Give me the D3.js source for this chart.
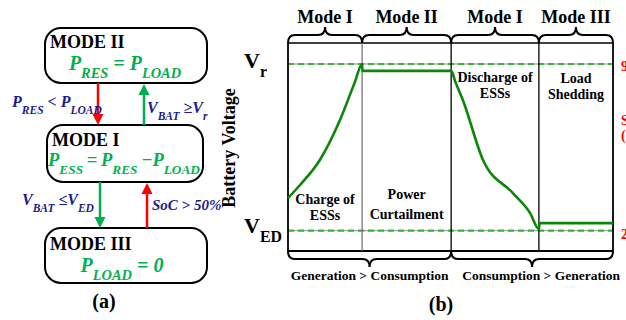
<!DOCTYPE html>
<html>
<head>
<meta charset="utf-8">
<script src="https://cdn.jsdelivr.net/npm/d3@7"></script>
<style>
  body { margin: 0; background: #fff; }
  text { font-family: "Liberation Serif", "Times New Roman", serif; font-weight: bold; }
</style>
</head>
<body>
<div id="content"></div>
<script>
// ---- data (b) ----
const modeNames = ['Mode I', 'Mode II', 'Mode I', 'Mode III']
const modeBounds = [0, 22.8, 50.2, 77.2, 100]
const regimeNames = ['Generation > Consumption', 'Consumption > Generation']
const regimeBounds = [0, 50.2, 100]
const phaseLabels = [['Charge of', 'ESSs'], ['Power', 'Curtailment'], ['Discharge of', 'ESSs'], ['Load', 'Shedding']]
const refLevels = [20, 90]
const refNames = ['ED', 'r']
const socLabels = ['20%', '90%']
const timeVals = [0, 3.7, 9.8, 16, 20.6, 22.8, 22.9, 50.2, 51.5, 53.8, 60, 69.2, 74.5, 77.2, 77.4, 100]
const voltVals = [33.7, 39.2, 49.7, 66.5, 82.5, 90, 87.1, 87.1, 82.5, 74.9, 49.7, 35.8, 27.4, 20.7, 23.2, 23.2]

const W = 626, H = 320
const svg = d3.select('#content').append('svg')
  .attr('width', W).attr('height', H)
  .style('display', 'block')

const red = '#ff0000', green = '#00b050', navy = '#1c1c8c', lineGreen = '#0a870a'

// text with subscripts: parts = [[str, isSub], ...]
function rich(x, y, parts, size, color, anchor, italic) {
  const t = svg.append('text')
    .attr('x', x).attr('y', y)
    .attr('fill', color)
    .attr('font-size', size)
    .attr('text-anchor', anchor || 'start')
    .style('font-style', italic ? 'italic' : 'normal')
  let shifted = 0
  parts.forEach(([s, sub]) => {
    const want = sub ? size * 0.42 : 0
    t.append('tspan')
      .attr('dy', want - shifted)
      .attr('font-size', sub ? size * 0.72 : size)
      .text(s)
    shifted = want
  })
  return t
}

// ---------- panel (a) ----------
const boxes = [
  {x: 45, y: 28, w: 162, h: 55, title: 'MODE II', tx: 50, ty: 48},
  {x: 47, y: 125, w: 156, h: 57, title: 'MODE I', tx: 52, ty: 146},
  {x: 45, y: 228, w: 162, h: 55, title: 'MODE III', tx: 50, ty: 250}
]
boxes.forEach(b => {
  svg.append('rect')
    .attr('x', b.x).attr('y', b.y).attr('width', b.w).attr('height', b.h)
    .attr('rx', 16).attr('ry', 16)
    .attr('fill', 'none').attr('stroke', '#000').attr('stroke-width', 2)
  svg.append('text').attr('x', b.tx).attr('y', b.ty)
    .attr('font-size', 18).text(b.title)
})

const th = '\u2009'
rich(125, 70, [['P', 0], ['RES', 1], [' = ', 0], ['P', 0], ['LOAD', 1]], 20, green, 'middle', true)
rich(124, 166, [['P', 0], ['ESS', 1], [th + '=' + th, 0], ['P', 0], ['RES', 1], [th + '\u2212', 0], ['P', 0], ['LOAD', 1]], 18.5, green, 'middle', true)
rich(122, 272, [['P', 0], ['LOAD', 1], [' = 0', 0]], 20, green, 'middle', true)

function arrow(x, y1, y2, color) {
  const dir = y2 > y1 ? 1 : -1
  svg.append('line')
    .attr('x1', x).attr('x2', x).attr('y1', y1).attr('y2', y2 - dir * 9)
    .attr('stroke', color).attr('stroke-width', 2.5)
  svg.append('path')
    .attr('d', `M${x - 5.5},${y2 - dir * 11} L${x + 5.5},${y2 - dir * 11} L${x},${y2} Z`)
    .attr('fill', color)
}
arrow(98, 83, 125, red)
arrow(144, 125, 84, green)
arrow(100, 182, 228, green)
arrow(147, 228, 183, red)

rich(12, 107, [['P', 0], ['RES', 1], [' < ', 0], ['P', 0], ['LOAD', 1]], 16, navy, 'start', true)
rich(147, 113, [['V', 0], ['BAT', 1], [' \u2265', 0], ['V', 0], ['r', 1]], 16, navy, 'start', true)
rich(22, 205, [['V', 0], ['BAT', 1], [' \u2264', 0], ['V', 0], ['ED', 1]], 16, navy, 'start', true)
rich(152, 210, [['SoC > 50%', 0]], 15, navy, 'start', true)

svg.append('text').attr('x', 104).attr('y', 308).attr('text-anchor', 'middle')
  .attr('font-size', 20).text('(a)')

// ---------- panel (b) ----------
const x = d3.scaleLinear().domain([0, 100]).range([288, 613])
const y = d3.scaleLinear().domain([20, 90]).range([230.7, 64])
const frameTop = 43, frameBottom = 251

// reference levels: gray line + green dashes
refLevels.forEach(v => {
  svg.append('line').attr('x1', x(0)).attr('x2', x(100))
    .attr('y1', y(v)).attr('y2', y(v))
    .attr('stroke', '#888').attr('stroke-width', 1)
  svg.append('line').attr('x1', x(0)).attr('x2', x(100))
    .attr('y1', y(v)).attr('y2', y(v))
    .attr('stroke', '#3cb43c').attr('stroke-width', 2.2)
    .attr('stroke-dasharray', '6,4')
})

// frame
svg.append('line').attr('x1', x(0)).attr('x2', x(100)).attr('y1', frameTop).attr('y2', frameTop)
  .attr('stroke', '#000').attr('stroke-width', 1.5)
svg.append('line').attr('x1', x(0)).attr('x2', x(100)).attr('y1', frameBottom).attr('y2', frameBottom)
  .attr('stroke', '#000').attr('stroke-width', 2)
modeBounds.forEach((b, i) => {
  svg.append('line').attr('x1', x(b)).attr('x2', x(b)).attr('y1', frameTop).attr('y2', frameBottom)
    .attr('stroke', i === 1 ? '#777' : '#000').attr('stroke-width', i === 0 || i === 4 ? 1.8 : 1.3)
})

// battery voltage curve
const pts = timeVals.map((t, i) => [t, voltVals[i]])
svg.append('path')
  .datum(pts)
  .attr('d', d3.line().x(d => x(d[0])).y(d => y(d[1])).curve(d3.curveMonotoneX))
  .attr('fill', 'none').attr('stroke', lineGreen).attr('stroke-width', 2.6)

// braces
function brace(x1, x2, y0, dir) {
  const ym = y0 + dir * 8, tip = y0 + dir * 16, xm = (x1 + x2) / 2, r = 7
  const d = `M${x1},${y0} Q${x1},${ym} ${x1 + r},${ym} L${xm - r},${ym} Q${xm},${ym} ${xm},${tip}` +
            ` Q${xm},${ym} ${xm + r},${ym} L${x2 - r},${ym} Q${x2},${ym} ${x2},${y0}`
  svg.append('path').attr('d', d).attr('fill', 'none')
    .attr('stroke', '#000').attr('stroke-width', 2)
}
modeNames.forEach((m, i) => {
  const x1 = x(modeBounds[i]), x2 = x(modeBounds[i + 1])
  brace(x1, x2, frameTop, -1)
  svg.append('text').attr('x', (x1 + x2) / 2).attr('y', 23)
    .attr('text-anchor', 'middle').attr('font-size', 18).text(m)
})
regimeNames.forEach((r, i) => {
  const x1 = x(regimeBounds[i]), x2 = x(regimeBounds[i + 1])
  brace(x1, x2, frameBottom, 1)
  svg.append('text').attr('x', (x1 + x2) / 2 + (i === 1 ? 9 : 0)).attr('y', 280)
    .attr('text-anchor', 'middle').attr('font-size', 13.5).text(r)
})

// phase labels
const labelY = [[204, 220], [199, 219], [82, 98], [83, 99]]
phaseLabels.forEach((lines, i) => {
  const cx = (x(modeBounds[i]) + x(modeBounds[i + 1])) / 2
  lines.forEach((s, j) => {
    svg.append('text').attr('x', cx).attr('y', labelY[i][j])
      .attr('text-anchor', 'middle').attr('font-size', 14).text(s)
  })
})

// y axis labels, secondary SoC labels run off the right edge as in the source figure
refLevels.forEach((v, i) => {
  rich(244, y(v) + (i === 0 ? 2.5 : 4), [['V', 0], [refNames[i], 1]], 22, '#000', 'start', false)
  svg.append('text').attr('x', 621).attr('y', y(v) + (i === 0 ? 8.5 : 6.5))
    .attr('fill', red).attr('font-size', 14).text(socLabels[i])
})
svg.append('text').attr('x', 621).attr('y', 125).attr('fill', red).attr('font-size', 14).text('SoC')
svg.append('text').attr('x', 621).attr('y', 140).attr('fill', red).attr('font-size', 14).text('(%)')

svg.append('text')
  .attr('transform', 'translate(235,148) rotate(-90)')
  .attr('text-anchor', 'middle').attr('font-size', 18).text('Battery Voltage')

svg.append('text').attr('x', 441).attr('y', 311).attr('text-anchor', 'middle')
  .attr('font-size', 20).text('(b)')
</script>
</body>
</html>
